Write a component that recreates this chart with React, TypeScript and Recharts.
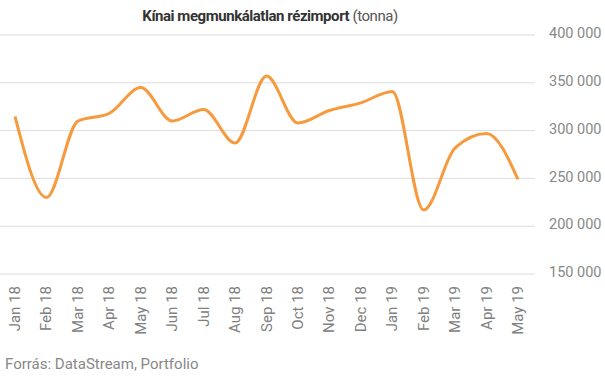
import React from 'react';
import { LineChart, Line, XAxis, YAxis, CartesianGrid } from 'recharts';

const months = [
  'Jan 18', 'Feb 18', 'Mar 18', 'Apr 18', 'May 18', 'Jun 18', 'Jul 18', 'Aug 18', 'Sep 18',
  'Oct 18', 'Nov 18', 'Dec 18', 'Jan 19', 'Feb 19', 'Mar 19', 'Apr 19', 'May 19',
];
const imports = [
  315000, 230000, 310000, 318000, 345000, 310000, 322000, 287000, 357000,
  308000, 321000, 329000, 341000, 217000, 282000, 297000, 249000,
];
const yTicks = [150000, 200000, 250000, 300000, 350000, 400000];

const data = months.map((m, i) => ({ month: m, value: imports[i] }));

const fmt = (v: number) => `${Math.round(v / 1000)} 000`;

const font = 'Roboto, "Noto Sans", sans-serif';

function MonthTick(props: any) {
  const { x, y, payload } = props;
  return (
    <text
      x={x}
      y={y}
      transform={`rotate(-90, ${x}, ${y})`}
      textAnchor="end"
      dominantBaseline="central"
      fontSize={15}
      fontFamily={font}
      fill="#808080"
    >
      {payload.value}
    </text>
  );
}

export default function App() {
  return (
    <div style={{ position: 'absolute', top: 0, left: 0, width: 605, height: 378, background: '#fff', fontFamily: font }}>
      <div
        style={{
          position: 'absolute',
          top: 7,
          left: 0,
          width: 540,
          textAlign: 'center',
          fontSize: 15,
          letterSpacing: -0.45,
          color: '#333',
        }}
      >
        <b>Kínai megmunkálatlan rézimport</b> <span style={{ color: '#555' }}>(tonna)</span>
      </div>
      <LineChart width={605} height={378} data={data} margin={{ top: 35, right: 0, left: 0, bottom: 0 }}>
        <CartesianGrid vertical={false} stroke="#dcdcdc" />
        <XAxis
          dataKey="month"
          height={104}
          interval={0}
          axisLine={false}
          tickLine={false}
          tickSize={0}
          tickMargin={12}
          padding={{ left: 15, right: 17 }}
          tick={<MonthTick />}
        />
        <YAxis
          orientation="right"
          width={70}
          domain={[150000, 400000]}
          ticks={yTicks}
          axisLine={false}
          tickLine={false}
          tickSize={0}
          tickMargin={14}
          tickFormatter={fmt}
          tick={{ fontSize: 14.5, fill: '#888', fontFamily: font, dy: -2 }}
        />
        <Line
          type="monotone"
          dataKey="value"
          stroke="#f79a3e"
          strokeWidth={3}
          dot={false}
          isAnimationActive={false}
        />
      </LineChart>
      <div style={{ position: 'absolute', left: 5, top: 355, fontSize: 15, color: '#888' }}>
        Forrás: DataStream, Portfolio
      </div>
    </div>
  );
}
